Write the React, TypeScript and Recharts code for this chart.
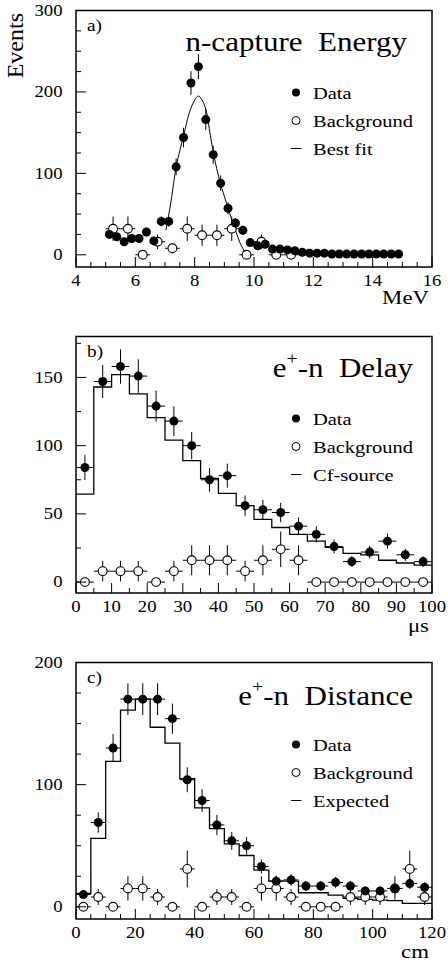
import React from "react";
import {
	ComposedChart,
	Customized,
	ErrorBar,
	Line,
	ReferenceArea,
	Scatter,
	XAxis,
	YAxis,
} from "recharts";

// a) n-capture energy: data in 0.25 MeV bins from 5 MeV, background in 0.5 MeV bins
const A_DATA = [25, 22, 16, 20, 20, 28, 17, 41, 41, 108, 144, 211, 231, 166, 123, 88, 57, 39, 30, 15, 11, 13, 7, 7, 6, 5, 3, 2, 2, 2, 1, 1, 1, 1, 1, 1, 1, 1, 1, 1];
const A_DATA_ERR = [5, 4.7, 4, 4.5, 4.5, 5.3, 4.1, 6.4, 6.4, 10.4, 12, 14.5, 15.2, 12.9, 11.1, 9.4, 7.5, 6.2, 5.5, 3.9, 3.3, 3.6, 2.6, 2.6, 2.4, 2.2, 1.7, 1.4, 1.4, 1.4, 1, 1, 1, 1, 1, 1, 1, 1, 1, 1];
const A_BKG = [32, 32, 0, 16, 8, 32, 24, 24, 32, 0, 16, 0, 0];
const A_BKG_ERR = [15, 15, 0, 9, 6, 15, 13, 13, 15, 0, 9, 0, 0];
const A_FIT_X = [7.03, 7.2, 7.375, 7.5, 7.625, 7.8, 8.0, 8.12, 8.25, 8.4, 8.55, 8.7, 8.875, 9.05, 9.2, 9.375, 9.55, 9.7];
const A_FIT_Y = [30, 65, 108, 128, 146, 172, 190, 195, 190, 175, 142, 113, 87, 66, 49, 30, 13, 3];
const A_X_LABELS = [4, 6, 8, 10, 12, 14, 16];
const A_Y_LABELS = [0, 100, 200, 300];

// b) e+-n delay: 5 us bins from 0
const B_DATA = [84, 147, 158, 151, 129, 118, 100, 75, 78, 56, 53, 51, 41, 35, 26, 15, 22, 30, 20, 15];
const B_DATA_ERR = [9.2, 12.1, 12.6, 12.3, 11.4, 10.9, 10, 8.7, 8.8, 7.5, 7.3, 7.1, 6.4, 5.9, 5.1, 3.9, 4.7, 5.5, 4.5, 3.9];
const B_BKG = [0, 8, 8, 8, 0, 8, 16, 16, 16, 8, 16, 24, 16, 0, 0, 0, 0, 0, 0, 0];
const B_BKG_ERR = [0, 7.5, 7.5, 7.5, 0, 7.5, 11, 11, 11, 7.5, 11, 13, 11, 0, 0, 0, 0, 0, 0, 0];
const B_CF = [64.5, 143, 152, 138, 120.5, 104, 89, 76, 65, 56, 46, 40, 35, 30, 25.5, 21, 20, 16, 14, 12.5];
const B_X_LABELS = [0, 10, 20, 30, 40, 50, 60, 70, 80, 90, 100];
const B_Y_LABELS = [0, 50, 100, 150];

// c) e+-n distance: 5 cm bins from 0
const C_DATA = [10, 69, 130, 170, 170, 170, 154, 104, 87, 67, 54, 50, 33, 21, 22, 17, 17, 20, 17, 13, 13, 15, 19, 16];
const C_DATA_ERR = [3.2, 8.3, 11.4, 13, 13, 13, 12.4, 10.2, 9.3, 8.2, 7.3, 7.1, 5.7, 4.6, 4.7, 4.1, 4.1, 4.5, 4.1, 3.6, 3.6, 3.9, 4.4, 4];
const C_BKG = [0, 8, 0, 15, 15, 8, 0, 31, 0, 8, 8, 0, 15, 15, 8, 0, 0, 0, 8, 8, 8, 15, 31, 8];
const C_BKG_ERR = [0, 6.5, 0, 10, 10, 6.5, 0, 15, 0, 6.5, 6.5, 0, 10, 10, 6.5, 0, 0, 0, 6.5, 6.5, 6.5, 10, 15, 6.5];
const C_EXP = [11, 56, 119, 161, 170, 147, 134, 105, 81, 64, 51.5, 42, 30, 21, 21, 11.5, 11.5, 9.5, 7, 6, 5.5, 5, 2.8, 2.8];
const C_X_LABELS = [0, 20, 40, 60, 80, 100, 120];
const C_Y_LABELS = [0, 100, 200];

const FONT = "'Liberation Serif', 'DejaVu Serif', serif";
const STRETCH = 1.17; // the source figure is a bit wider than tall
const W = 448;
const H = 310;
const X_GAP = 9;
const Y_GAP = 13.5;

const range = (from: number, to: number, step: number) => {
	const out: number[] = [];
	for (let v = from; v <= to + 1e-9; v += step) out.push(+v.toFixed(3));
	return out;
};

const binTable = (start: number, width: number, values: number[], errors: number[]) =>
	values.map((y, i) => ({ x: start + width * (i + 0.5), y, ex: width / 2, ey: errors[i] }));

// step histogram: points at left bin edges plus the closing edge
const stepTable = (start: number, width: number, values: number[]) => [
	...values.map((y, i) => ({ x: start + width * i, y })),
	{ x: start + width * values.length, y: values[values.length - 1] },
];

const SText = ({ x, y, anchor = "start", size, children }: any) => (
	<text
		transform={`translate(${x},${y}) scale(${STRETCH},1)`}
		textAnchor={anchor}
		fontFamily={FONT}
		fontSize={size}
		fill="#000"
		style={{ whiteSpace: "pre" }}
	>
		{children}
	</text>
);

const xTick = (majors: number[]) => (props: any) => {
	const { x, y, payload } = props;
	const major = majors.includes(payload.value);
	const axisY = y - X_GAP;
	return (
		<g>
			<line x1={x} x2={x} y1={axisY} y2={axisY - (major ? 10 : 5)} stroke="#000" />
			{major && (
				<SText x={x} y={axisY + 18.5} anchor="middle" size={16}>
					{payload.value}
				</SText>
			)}
		</g>
	);
};

const yTick = (majors: number[]) => (props: any) => {
	const { x, y, payload } = props;
	const major = majors.includes(payload.value);
	const axisX = x + Y_GAP;
	return (
		<g>
			<line x1={axisX} x2={axisX + (major ? 10 : 5)} y1={y} y2={y} stroke="#000" />
			{major && (
				<SText x={x} y={y + 5.4} anchor="end" size={16}>
					{payload.value}
				</SText>
			)}
		</g>
	);
};

const Filled = (p: any) => <circle cx={p.cx} cy={p.cy} r={4.5} fill="#000" />;
const Open = (p: any) => (
	<circle cx={p.cx} cy={p.cy} r={4.4} fill="#fff" stroke="#000" strokeWidth={1.1} />
);

const Overlay = ({ tag, title, legend, unit, unitY, titleX, titleY, events }: any) => (
	<g>
		{events && (
			<text
				transform="translate(22.5,13) rotate(-90)"
				textAnchor="end"
				fontFamily={FONT}
				fontSize={24}
				fill="#000"
			>
				Events
			</text>
		)}
		<SText x={87} y={31} size={16.5}>
			{tag}
		</SText>
		<SText x={titleX} y={titleY} anchor="end" size={26.5}>
			{title}
		</SText>
		{legend.map((label: string, i: number) => {
			const cy = 92.5 + i * 28;
			return (
				<g key={label}>
					{i === 0 && <circle cx={296} cy={cy} r={4} fill="#000" />}
					{i === 1 && <circle cx={296} cy={cy} r={4} fill="#fff" stroke="#000" />}
					{i === 2 && <line x1={291} x2={301.5} y1={cy} y2={cy} stroke="#000" />}
					<SText x={313} y={cy + 6.3} size={17.5}>
						{label}
					</SText>
				</g>
			);
		})}
		<SText x={429} y={unitY} anchor="end" size={19.5}>
			{unit}
		</SText>
	</g>
);

const Panel = ({
	top,
	xDomain,
	yDomain,
	xTicks,
	xLabels,
	yTicks,
	yLabels,
	data,
	bkg,
	curve,
	curveType,
	overlay,
}: any) => (
	<div style={{ position: "absolute", left: 0, top, width: W, height: H }}>
		<ComposedChart width={W} height={H} margin={{ top: 10.5, right: 16, bottom: 0, left: 0 }}>
			<XAxis
				type="number"
				dataKey="x"
				domain={xDomain}
				ticks={xTicks}
				interval={0}
				allowDataOverflow
				axisLine={false}
				tickLine={false}
				tickSize={0}
				tickMargin={X_GAP}
				height={43}
				tick={xTick(xLabels)}
			/>
			<YAxis
				type="number"
				dataKey="y"
				domain={yDomain}
				ticks={yTicks}
				interval={0}
				allowDataOverflow
				axisLine={false}
				tickLine={false}
				tickSize={0}
				tickMargin={Y_GAP}
				width={76}
				tick={yTick(yLabels)}
			/>
			<Line
				data={curve}
				dataKey="y"
				type={curveType}
				dot={false}
				activeDot={false}
				stroke="#000"
				strokeWidth={curveType === "monotone" ? 1 : 1.3}
				isAnimationActive={false}
			/>
			<Scatter data={bkg} shape={Open} isAnimationActive={false}>
				<ErrorBar dataKey="ey" direction="y" width={0} stroke="#000" strokeWidth={1} />
				<ErrorBar dataKey="ex" direction="x" width={0} stroke="#000" strokeWidth={1} />
			</Scatter>
			<Scatter data={data} shape={Filled} isAnimationActive={false}>
				<ErrorBar dataKey="ey" direction="y" width={0} stroke="#000" strokeWidth={1} />
				<ErrorBar dataKey="ex" direction="x" width={0} stroke="#000" strokeWidth={1} />
			</Scatter>
			<ReferenceArea
				x1={xDomain[0]}
				x2={xDomain[1]}
				y1={yDomain[0]}
				y2={yDomain[1]}
				fill="none"
				stroke="#000"
				strokeWidth={1.5}
			/>
			<Customized component={() => overlay} />
		</ComposedChart>
	</div>
);

export default function App() {
	const sup = (
		<>
			<tspan>e</tspan>
			<tspan dy={-13} fontSize={17}>
				+
			</tspan>
			<tspan dy={13}>-n  </tspan>
		</>
	);
	return (
		<div
			style={{
				position: "absolute",
				left: 0,
				top: 0,
				width: W,
				height: 962,
				background: "#fff",
			}}
		>
			<Panel
				top={0}
				xDomain={[4, 16]}
				yDomain={[-15, 300]}
				xTicks={range(4, 16, 0.5)}
				xLabels={A_X_LABELS}
				yTicks={range(0, 300, 25)}
				yLabels={A_Y_LABELS}
				data={binTable(5, 0.25, A_DATA, A_DATA_ERR)}
				bkg={binTable(5, 0.5, A_BKG, A_BKG_ERR)}
				curve={A_FIT_X.map((x, i) => ({ x, y: A_FIT_Y[i] }))}
				curveType="monotone"
				overlay={
					<Overlay
						events
						tag="a)"
						title="n-capture  Energy"
						titleX={407}
						titleY={51}
						legend={["Data", "Background", "Best fit"]}
						unit="MeV"
						unitY={304}
					/>
				}
			/>
			<Panel
				top={326}
				xDomain={[0, 100]}
				yDomain={[-8, 180]}
				xTicks={range(0, 100, 5)}
				xLabels={B_X_LABELS}
				yTicks={range(0, 175, 25)}
				yLabels={B_Y_LABELS}
				data={binTable(0, 5, B_DATA, B_DATA_ERR)}
				bkg={binTable(0, 5, B_BKG, B_BKG_ERR)}
				curve={stepTable(0, 5, B_CF)}
				curveType="stepAfter"
				overlay={
					<Overlay
						tag="b)"
						title={
							<>
								{sup}
								<tspan>Delay</tspan>
							</>
						}
						titleX={413}
						titleY={51}
						legend={["Data", "Background", "Cf-source"]}
						unit="μs"
						unitY={306}
					/>
				}
			/>
			<Panel
				top={652}
				xDomain={[0, 120]}
				yDomain={[-10, 200]}
				xTicks={range(0, 120, 5)}
				xLabels={C_X_LABELS}
				yTicks={range(0, 200, 25)}
				yLabels={C_Y_LABELS}
				data={binTable(0, 5, C_DATA, C_DATA_ERR)}
				bkg={binTable(0, 5, C_BKG, C_BKG_ERR)}
				curve={stepTable(0, 5, C_EXP)}
				curveType="stepAfter"
				overlay={
					<Overlay
						tag="c)"
						title={
							<>
								{sup}
								<tspan>Distance</tspan>
							</>
						}
						titleX={413}
						titleY={53}
						legend={["Data", "Background", "Expected"]}
						unit="cm"
						unitY={306}
					/>
				}
			/>
		</div>
	);
}
